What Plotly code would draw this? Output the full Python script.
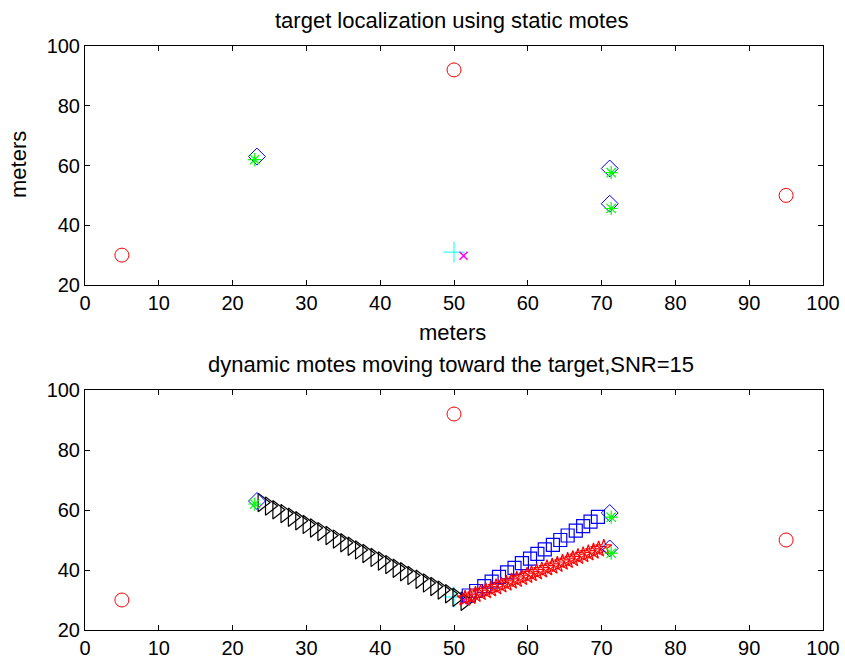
import plotly.graph_objects as go

# ---- data ----
anchor_x = [5, 50, 95]
anchor_y = [30, 92, 50]

mote_x = [23.3, 71.1, 71.1]
mote_y = [63.0, 59.0, 47.2]

est_x = [23.0, 71.3, 71.3]
est_y = [62.0, 57.6, 45.6]

target_x = [50.0]
target_y = [31.0]

target_est_x = [51.3]
target_est_y = [29.8]

# dynamic mote trails (bottom panel)
black_x = [24.0, 25.0, 26.0, 27.1, 28.1, 29.1, 30.1, 31.1, 32.1, 33.2, 34.2, 35.2, 36.2, 37.2,
           38.2, 39.3, 40.3, 41.3, 42.3, 43.3, 44.3, 45.4, 46.4, 47.4, 48.4, 49.4, 50.4, 51.5]
black_y = [62.5, 61.3, 60.1, 58.8, 57.6, 56.4, 55.2, 54.0, 52.8, 51.5, 50.3, 49.1, 47.9, 46.7,
           45.5, 44.2, 43.0, 41.8, 40.6, 39.4, 38.2, 36.9, 35.7, 34.5, 33.3, 32.1, 30.9, 29.6]

blue_x = [52.0, 53.0, 54.1, 55.1, 56.1, 57.2, 58.2, 59.2, 60.3, 61.3, 62.3, 63.4, 64.4, 65.4,
          66.5, 67.5, 68.5, 69.5]
blue_y = [31.5, 33.0, 34.6, 36.1, 37.7, 39.2, 40.7, 42.3, 43.8, 45.4, 46.9, 48.4, 50.0, 51.5,
          53.1, 54.6, 56.1, 57.7]

red_x = [51.5, 52.2, 52.9, 53.6, 54.3, 55.0, 55.7, 56.4, 57.1, 57.8, 58.5, 59.2, 59.9, 60.5,
         61.2, 61.9, 62.6, 63.3, 64.0, 64.7, 65.4, 66.1, 66.8, 67.5, 68.2, 68.9, 69.6, 70.3]
red_y = [30.5, 31.1, 31.8, 32.4, 33.0, 33.6, 34.3, 34.9, 35.5, 36.2, 36.8, 37.4, 38.1, 38.7,
         39.3, 39.9, 40.6, 41.2, 41.8, 42.5, 43.1, 43.7, 44.4, 45.0, 45.6, 46.2, 46.9, 47.5]

x_ticks = [0, 10, 20, 30, 40, 50, 60, 70, 80, 90, 100]
y_ticks = [20, 40, 60, 80, 100]

FONT = "Liberation Sans, Arial, sans-serif"
TICK = 20
TXT = 22

fig = go.Figure()


def add_static(xa, ya):
    fig.add_trace(go.Scatter(x=anchor_x, y=anchor_y, mode="markers", xaxis=xa, yaxis=ya,
                             marker=dict(symbol="circle-open", size=14, color="red",
                                         line=dict(width=1, color="red"))))
    fig.add_trace(go.Scatter(x=target_x, y=target_y, mode="markers", xaxis=xa, yaxis=ya,
                             marker=dict(symbol="cross-thin-open", size=15, color="cyan",
                                         line=dict(width=1, color="cyan"))))
    fig.add_trace(go.Scatter(x=target_est_x, y=target_est_y, mode="markers", xaxis=xa, yaxis=ya,
                             marker=dict(symbol="x-thin-open", size=8, color="magenta",
                                         line=dict(width=1.5, color="magenta"))))


def add_motes(xa, ya):
    fig.add_trace(go.Scatter(x=mote_x, y=mote_y, mode="markers", xaxis=xa, yaxis=ya,
                             marker=dict(symbol="diamond-open", size=13, color="blue",
                                         line=dict(width=1, color="blue"))))
    fig.add_trace(go.Scatter(x=est_x, y=est_y, mode="markers", xaxis=xa, yaxis=ya,
                             marker=dict(symbol="asterisk-open", size=11, color="#00ff00",
                                         line=dict(width=1.2, color="#00ff00"))))


# top panel
add_static("x", "y")
add_motes("x", "y")

# bottom panel
add_static("x2", "y2")
fig.add_trace(go.Scatter(x=black_x, y=black_y, mode="markers", xaxis="x2", yaxis="y2",
                         marker=dict(symbol="triangle-right-open", size=16, color="black",
                                     line=dict(width=1.2, color="black"))))
fig.add_trace(go.Scatter(x=blue_x, y=blue_y, mode="markers", xaxis="x2", yaxis="y2",
                         marker=dict(symbol="square-open", size=13, color="blue",
                                     line=dict(width=1.2, color="blue"))))
fig.add_trace(go.Scatter(x=red_x, y=red_y, mode="markers", xaxis="x2", yaxis="y2",
                         marker=dict(symbol="star-open", size=12, color="red",
                                     line=dict(width=1.2, color="red"))))
add_motes("x2", "y2")

W, H = 845, 661
xdom = [85 / W, 823 / W]

axis_common = dict(showgrid=False, zeroline=False, showline=True, linecolor="black",
                   linewidth=1, mirror="ticks", ticks="inside", ticklen=5, tickcolor="black",
                   automargin=False,
                   tickfont=dict(family=FONT, size=TICK, color="black"))

fig.update_layout(
    width=W, height=H,
    margin=dict(l=0, r=0, t=0, b=0),
    paper_bgcolor="white", plot_bgcolor="white",
    showlegend=False,
    xaxis=dict(domain=xdom, range=[0, 100], tickvals=x_ticks, anchor="y", **axis_common),
    yaxis=dict(domain=[1 - 285 / H, 1 - 46 / H], range=[20, 100], tickvals=y_ticks,
               anchor="x", **axis_common),
    xaxis2=dict(domain=xdom, range=[0, 100], tickvals=x_ticks, anchor="y2", **axis_common),
    yaxis2=dict(domain=[1 - 630 / H, 1 - 390 / H], range=[20, 100], tickvals=y_ticks,
                anchor="x2", **axis_common),
)

ann_px = [
    ("target localization using static motes", 451, 21, 0),
    ("meters", 452, 332, 0),
    ("meters", 18, 165, -90),
    ("dynamic motes moving toward the target,SNR=15", 451, 365, 0),
]
fig.update_layout(annotations=[
    dict(text=t, x=px / W, y=1 - py / H, xref="paper", yref="paper", xanchor="center",
         yanchor="middle", showarrow=False, textangle=ang,
         font=dict(family=FONT, size=TXT, color="black"))
    for t, px, py, ang in ann_px
])

fig.write_html("out.html")
